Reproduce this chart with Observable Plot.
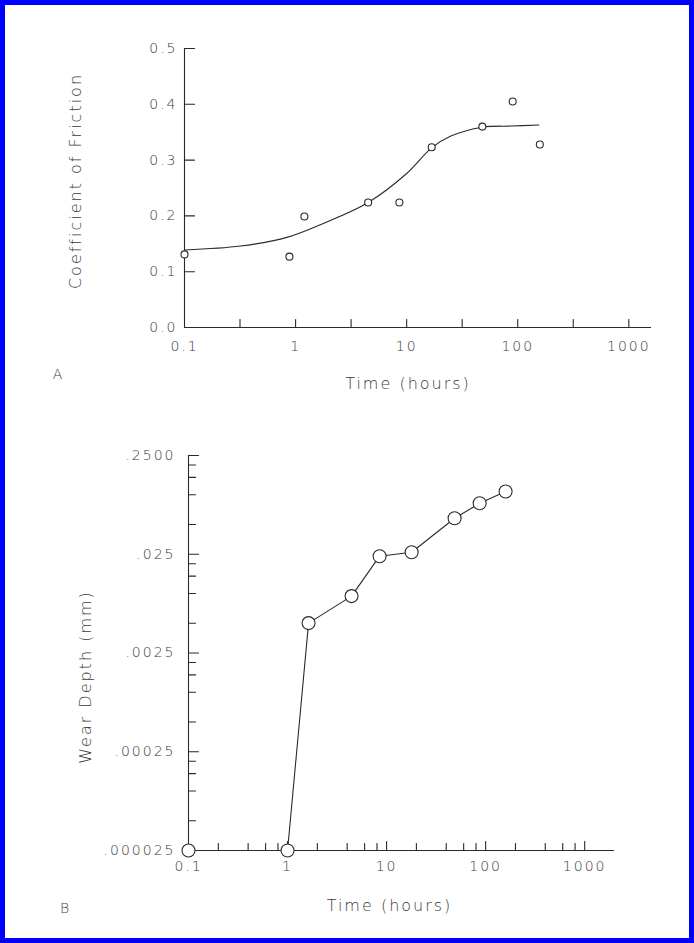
<!DOCTYPE html>
<html><head><meta charset="utf-8">
<script src="https://cdn.jsdelivr.net/npm/d3@7"></script>
<script src="https://cdn.jsdelivr.net/npm/@observablehq/plot@0.6"></script>
<style>
html,body{margin:0;padding:0;background:#fff;}
#page{position:relative;width:694px;height:943px;overflow:hidden;background:#fff;}
.panel{position:absolute;left:0;}
#frame{position:absolute;left:0;top:0;width:694px;height:943px;box-sizing:border-box;border:5px solid #0000fe;pointer-events:none;}
svg text{letter-spacing:2px;font-weight:200;}
</style></head><body>
<div id="page">
  <div id="a" class="panel" style="top:0px"></div>
  <div id="b" class="panel" style="top:420px"></div>
  <div id="frame"></div>
</div>
<script>
// ---- Panel A: coefficient of friction vs time ----
const frictionTime = [0.1, 0.88, 1.2, 4.5, 8.6, 16.8, 48, 90, 158];
const frictionCoef = [0.131, 0.127, 0.199, 0.224, 0.224, 0.323, 0.360, 0.405, 0.328];
const fitTime = [0.1, 0.32, 0.85, 1.8, 4.5, 10, 16.8, 25, 48, 87, 155];
const fitCoef = [0.139, 0.146, 0.162, 0.187, 0.224, 0.276, 0.322, 0.343, 0.359, 0.361, 0.363];
const xTicksA = [0.1, 1, 10, 100, 1000];
const xLabelsA = ["0.1", "1", "10", "100", "1000"];
const xTickMarksA = [0.316, 1, 3.16, 10, 31.6, 100, 316, 1000];
const yTicksA = [0, 0.1, 0.2, 0.3, 0.4, 0.5];
const yLabelsA = ["0.0", "0.1", "0.2", "0.3", "0.4", "0.5"];
const yTickMarksA = [0.1, 0.2, 0.3, 0.4, 0.5];

// ---- Panel B: wear depth vs time ----
const wearTime = [0.1, 1, 1.63, 4.43, 8.5, 17.9, 48.6, 87, 159];
const wearDepth = [0.000025, 0.000025, 0.00502, 0.00942, 0.0239, 0.0262, 0.0578, 0.082, 0.108];
const xTicksB = [0.1, 1, 10, 100, 1000];
const xLabelsB = ["0.1", "1", "10", "100", "1000"];
const xMajorMarksB = [1, 10, 100, 1000];
const yTicksB = [0.000025, 0.00025, 0.0025, 0.025, 0.25];
const yLabelsB = [".000025", ".00025", ".0025", ".025", ".2500"];
const minorFactors = [2, 4, 6, 8];

const ink = "#2a2a2a";
const textInk = "#3a3a3a";
const font = "'DejaVu Sans', 'Liberation Sans', sans-serif";

const tickUp = {draw(ctx, l) { ctx.moveTo(0, 0); ctx.lineTo(0, -l); }};
const tickRight = {draw(ctx, l) { ctx.moveTo(0, 0); ctx.lineTo(l, 0); }};

// minor ticks for B built from the major tick arrays
const xMinorB = xTicksB.slice(0, 4).flatMap(d => minorFactors.map(f => d * f));
const yMinorB = yTicksB.slice(1).flatMap(d => minorFactors.map(f => d * f / 10));

const idxA = frictionTime.map((_, i) => i);
const idxFit = fitTime.map((_, i) => i);
const idxB = wearTime.map((_, i) => i);

const plotA = Plot.plot({
  width: 694, height: 420,
  marginLeft: 184, marginRight: 43, marginTop: 48, marginBottom: 93,
  x: {type: "log", domain: [0.1, 1600], axis: null},
  y: {type: "linear", domain: [0, 0.5], axis: null},
  style: {fontFamily: font, fontSize: "14px", color: ink, background: "transparent", overflow: "visible"},
  marks: [
    Plot.ruleX([0.1], {stroke: ink, strokeWidth: 1.1}),
    Plot.ruleY([0], {stroke: ink, strokeWidth: 1.1}),
    Plot.vector(xTickMarksA, {x: d => d, frameAnchor: "bottom", length: 8, shape: tickUp, anchor: "start", stroke: ink, strokeWidth: 1.1}),
    Plot.vector(yTickMarksA, {y: d => d, frameAnchor: "left", length: 10, shape: tickRight, anchor: "start", stroke: ink, strokeWidth: 1.1}),
    Plot.text(xTicksA, {x: d => d, text: (d, i) => xLabelsA[i], frameAnchor: "bottom", dy: 23, fill: textInk, fontSize: 14}),
    Plot.text(yTicksA, {y: d => d, text: (d, i) => yLabelsA[i], frameAnchor: "left", textAnchor: "end", dx: -7, fill: textInk, fontSize: 14}),
    Plot.text(["Time (hours)"], {frameAnchor: "bottom", textAnchor: "middle", dx: -10, dy: 61, fill: textInk, fontSize: 16}),
    Plot.text(["Coefficient of Friction"], {frameAnchor: "left", textAnchor: "middle", rotate: -90, dx: -109, dy: -7, fill: textInk, fontSize: 16}),
    Plot.text(["A"], {frameAnchor: "bottom-left", textAnchor: "middle", dx: -126, dy: 51, fill: textInk, fontSize: 14}),
    Plot.line(idxFit, {x: i => fitTime[i], y: i => fitCoef[i], curve: "catmull-rom", stroke: ink, strokeWidth: 1.1}),
    Plot.dot(idxA, {x: i => frictionTime[i], y: i => frictionCoef[i], r: 3.5, stroke: ink, fill: "white", strokeWidth: 1.1})
  ]
});
document.getElementById("a").appendChild(plotA);

const plotB = Plot.plot({
  width: 694, height: 523,
  marginLeft: 188, marginRight: 80, marginTop: 35, marginBottom: 93,
  x: {type: "log", domain: [0.1, 2000], axis: null},
  y: {type: "log", domain: [0.000025, 0.25], axis: null},
  style: {fontFamily: font, fontSize: "14px", color: ink, background: "transparent", overflow: "visible"},
  marks: [
    Plot.ruleX([0.1], {stroke: ink, strokeWidth: 1.1}),
    Plot.ruleY([0.000025], {stroke: ink, strokeWidth: 1.1}),
    Plot.vector(xMinorB, {x: d => d, frameAnchor: "bottom", length: 7, shape: tickUp, anchor: "start", stroke: ink, strokeWidth: 1.1}),
    Plot.vector(xMajorMarksB, {x: d => d, frameAnchor: "bottom", length: 9, shape: tickUp, anchor: "start", stroke: ink, strokeWidth: 1.1}),
    Plot.vector(yMinorB, {y: d => d, frameAnchor: "left", length: 7, shape: tickRight, anchor: "start", stroke: ink, strokeWidth: 1.1}),
    Plot.vector(yTicksB.slice(1), {y: d => d, frameAnchor: "left", length: 10, shape: tickRight, anchor: "start", stroke: ink, strokeWidth: 1.1}),
    Plot.text(xTicksB, {x: d => d, text: (d, i) => xLabelsB[i], frameAnchor: "bottom", dy: 20, fill: textInk, fontSize: 14}),
    Plot.text(yTicksB, {y: d => d, text: (d, i) => yLabelsB[i], frameAnchor: "left", textAnchor: "end", dx: -13, fill: textInk, fontSize: 14}),
    Plot.text(["Time (hours)"], {frameAnchor: "bottom", textAnchor: "middle", dx: -12, dy: 60, fill: textInk, fontSize: 16}),
    Plot.text(["Wear Depth (mm)"], {frameAnchor: "left", textAnchor: "middle", rotate: -90, dx: -103, dy: 24, fill: textInk, fontSize: 16}),
    Plot.text(["B"], {frameAnchor: "bottom-left", textAnchor: "middle", dx: -123, dy: 62, fill: textInk, fontSize: 14}),
    Plot.line(idxB, {x: i => wearTime[i], y: i => wearDepth[i], stroke: ink, strokeWidth: 1.1}),
    Plot.dot(idxB, {x: i => wearTime[i], y: i => wearDepth[i], r: 6.5, stroke: ink, fill: "white", strokeWidth: 1.1})
  ]
});
document.getElementById("b").appendChild(plotB);
</script>
</body></html>
